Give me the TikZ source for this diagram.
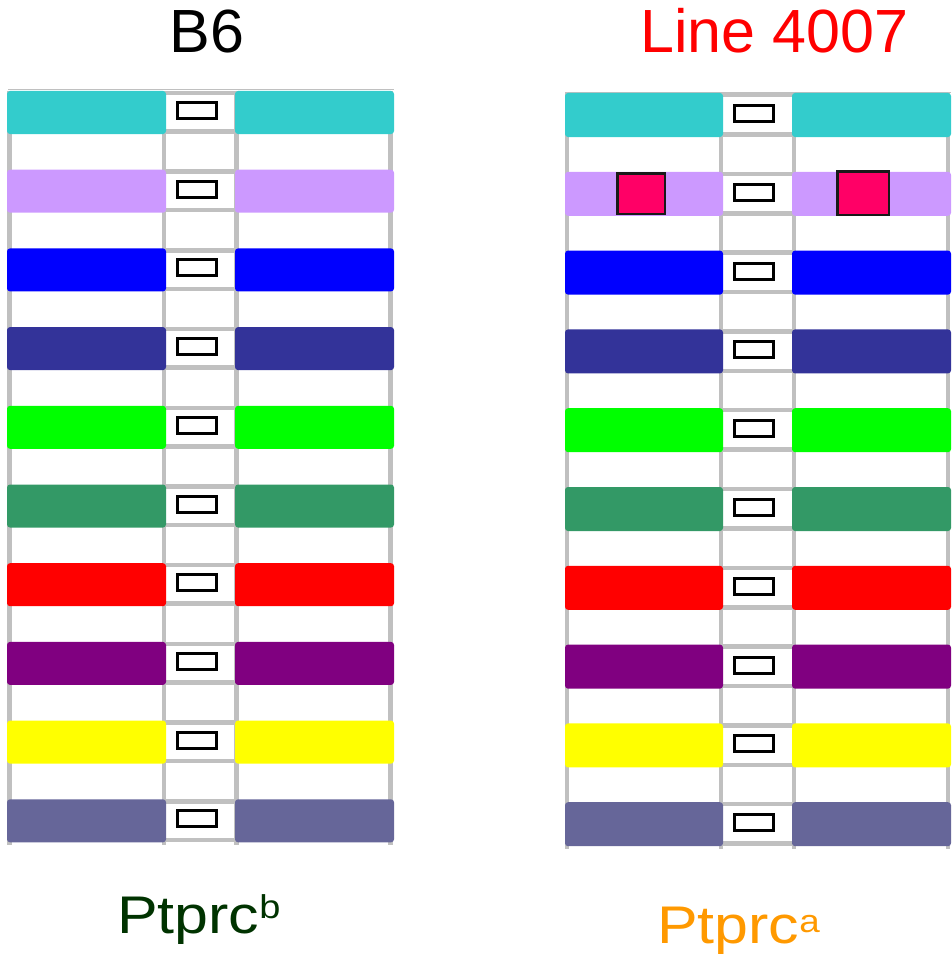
\documentclass[tikz,border=0pt]{standalone}
\usepackage{fontspec}
\setmainfont{Liberation Sans}

% band colours, top to bottom
\definecolor{bcyan}{HTML}{33CCCC}
\definecolor{blav}{HTML}{CC99FF}
\definecolor{bblue}{HTML}{0000FF}
\definecolor{bnavy}{HTML}{333399}
\definecolor{bgreen}{HTML}{00FF00}
\definecolor{bsea}{HTML}{339966}
\definecolor{bred}{HTML}{FF0000}
\definecolor{bpurple}{HTML}{800080}
\definecolor{byellow}{HTML}{FFFF00}
\definecolor{bslate}{HTML}{666699}
\definecolor{gridgray}{HTML}{C0C0C0}
\definecolor{markpink}{HTML}{FF0066}
\definecolor{bdarkgreen}{HTML}{003300}
\definecolor{borange}{HTML}{FF9900}

\tikzset{
  gridline/.style={draw=gridgray, line width=4.5pt},
  edgeline/.style={draw=gridgray, line width=1pt},
  arm/.style={rounded corners=3pt},
  locus/.style={draw=black, fill=white, line width=3pt, inner sep=0pt,
                minimum width=39pt, minimum height=16pt},
  marker/.style={draw=black!90, fill=markpink, line width=2.5pt, inner sep=0pt},
  title/.style={inner sep=0pt, anchor=base, font=\fontsize{61}{70}\selectfont},
  allele/.style={inner sep=0pt, anchor=base west, font=\fontsize{53}{60}\selectfont},
}
% allele label, set slightly wide
\newcommand\allelelabel[3]{\scalebox{1.15}[1]{Ptprc{\fontsize{#1}{#1}\selectfont\raisebox{#2}{#3}}}}

\begin{document}
\begin{tikzpicture}[x=1pt, y=-1pt]
\useasboundingbox (0,0) rectangle (951,963);

% ---------------- B6 ----------------
\node[title] (tB) at (207,53) {B6};
\draw[edgeline] (8,90) -- (394,90);
\foreach \x in {9.5,164,236.5,390.5}
  \draw[gridline] (\x,91) -- (\x,845);
\foreach \c [count=\i from 0] in {bcyan,blav,bblue,bnavy,bgreen,bsea,bred,bpurple,byellow,bslate} {
  \pgfmathsetmacro\yt{91+78.7*\i}
  \pgfmathsetmacro\yb{\yt+43}
  \draw[gridline] (164,\yt+2) -- (236.5,\yt+2);
  \draw[gridline] (164,\yb-2.5) -- (236.5,\yb-2.5);
  \fill[\c, arm] (7,\yt) rectangle (166,\yb);
  \fill[\c, arm] (235,\yt) rectangle (394,\yb);
  \node[locus] (lB\i) at (197,\yt+19.5) {};
}
\node[allele, text=bdarkgreen] (aB) at (117,933) {\allelelabel{33}{15pt}{b}};

% ---------------- Line 4007 ----------------
\node[title, text=red] (tL) at (774.5,53) {Line 4007};
\draw[edgeline] (565,93) -- (951,93);
\foreach \x in {567,721,794,948}
  \draw[gridline] (\x,93) -- (\x,849);
\foreach \c [count=\i from 0] in {bcyan,blav,bblue,bnavy,bgreen,bsea,bred,bpurple,byellow,bslate} {
  \pgfmathsetmacro\yt{93+78.8*\i}
  \pgfmathsetmacro\yb{\yt+44}
  \draw[gridline] (721,\yt+2) -- (794,\yt+2);
  \draw[gridline] (721,\yb-2.5) -- (794,\yb-2.5);
  \fill[\c, arm] (565,\yt) rectangle (723,\yb);
  \fill[\c, arm] (792,\yt) rectangle (951,\yb);
  \node[locus] (lL\i) at (754,\yt+20.5) {};
}
% altered loci on the second pair
\node[marker, minimum width=47.5pt, minimum height=40.5pt] (m1) at (641,193.5) {};
\node[marker, minimum width=51.5pt, minimum height=43.5pt] (m2) at (863,193) {};
\node[allele, text=borange] (aL) at (657,943) {\allelelabel{32}{11pt}{a}};
\end{tikzpicture}
\end{document}
